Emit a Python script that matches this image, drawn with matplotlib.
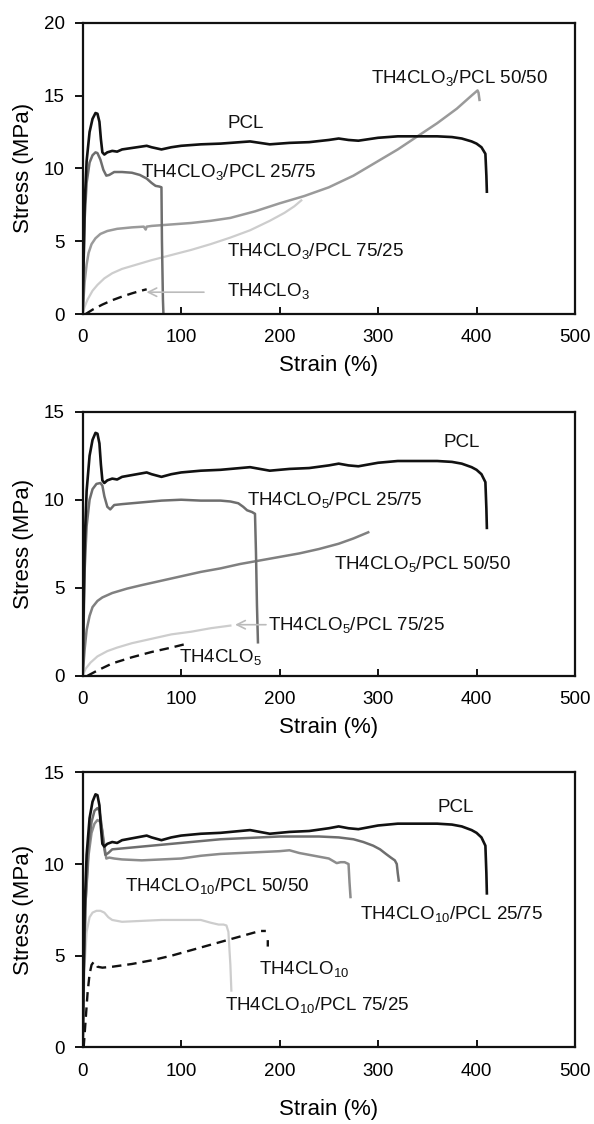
import numpy as np
import matplotlib
matplotlib.use("Agg")
import matplotlib.pyplot as plt

plt.rcParams["font.family"] = ["Liberation Sans", "DejaVu Sans"]
plt.rcParams["mathtext.fontset"] = "custom"
plt.rcParams["mathtext.rm"] = "Liberation Sans"

# ── data (strain %, stress MPa) ──────────────────────────────────────────────
pcl_x = [0, 1, 2, 4, 7, 10, 13, 15, 17, 18.5, 20, 22, 25, 30, 35, 40, 50, 60, 65, 70,
         80, 90, 100, 120, 140, 160, 170, 180, 190, 210, 230, 250, 260, 270, 280, 300,
         320, 340, 360, 375, 385, 395, 400, 405, 409, 410, 410.5]
pcl_y = [0, 4, 7.5, 10.5, 12.5, 13.4, 13.8, 13.75, 13.2, 12.0, 11.1, 10.95, 11.1, 11.2, 11.15,
         11.3, 11.4, 11.5, 11.55, 11.45, 11.3, 11.45, 11.55, 11.65, 11.7, 11.8, 11.85, 11.75,
         11.65, 11.75, 11.8, 11.95, 12.05, 11.95, 11.9, 12.1, 12.2, 12.2, 12.2, 12.15, 12.05,
         11.85, 11.7, 11.45, 11.0, 9.5, 8.4]

# TH4CLO3 blends
c3_2575_x = [0, 1, 2, 4, 7, 10, 13, 15, 18, 21, 24, 27, 32, 40, 50, 58, 65, 70, 74, 78, 80, 80.5, 81.5, 82]
c3_2575_y = [0, 3.5, 6.5, 9, 10.4, 10.9, 11.1, 11.05, 10.6, 9.9, 9.5, 9.55, 9.75, 9.75, 9.7, 9.55,
             9.3, 9.0, 8.8, 8.75, 8.7, 5, 1, 0]
c3_5050_x = [0, 1, 2, 4, 6, 9, 13, 18, 25, 35, 50, 62, 64, 65, 70, 90, 110, 130, 150, 175, 200,
             225, 250, 275, 300, 320, 340, 360, 380, 395, 401, 402, 403]
c3_5050_y = [0, 1.2, 2.2, 3.4, 4.2, 4.8, 5.2, 5.5, 5.7, 5.85, 5.95, 6.0, 5.8, 6.0, 6.05, 6.15, 6.25,
             6.4, 6.6, 7.05, 7.6, 8.1, 8.7, 9.5, 10.5, 11.3, 12.2, 13.1, 14.1, 15.0, 15.35, 15.2, 14.7]
c3_7525_x = [0, 2, 5, 10, 15, 22, 30, 40, 55, 70, 90, 110, 130, 150, 170, 190, 205, 215, 222]
c3_7525_y = [0, 0.5, 1.0, 1.6, 2.0, 2.45, 2.8, 3.1, 3.4, 3.7, 4.05, 4.4, 4.8, 5.25, 5.75, 6.4,
             6.95, 7.4, 7.8]
c3_x = [3, 10, 20, 30, 40, 50, 58, 65]
c3_y = [0, 0.3, 0.65, 0.95, 1.2, 1.42, 1.58, 1.7]

# TH4CLO5 blends
c5_2575_x = [0, 1, 2, 4, 7, 10, 14, 18, 20, 22, 25, 28, 32, 40, 60, 80, 100, 120, 140, 150, 158,
             163, 167, 172, 175, 176, 177, 178]
c5_2575_y = [0, 3, 6, 8.5, 10, 10.6, 10.9, 10.95, 10.8, 10.2, 9.6, 9.45, 9.7, 9.75, 9.85, 9.95,
             10.0, 9.95, 9.95, 9.9, 9.8, 9.6, 9.4, 9.3, 9.2, 7, 4, 1.9]
c5_5050_x = [0, 2, 4, 7, 10, 15, 20, 30, 45, 60, 80, 100, 120, 140, 160, 180, 200, 220, 240,
             260, 275, 290]
c5_5050_y = [0, 1.5, 2.6, 3.4, 3.9, 4.25, 4.45, 4.7, 4.95, 5.15, 5.4, 5.65, 5.9, 6.1, 6.35,
             6.55, 6.75, 6.95, 7.2, 7.5, 7.8, 8.15]
c5_7525_x = [0, 3, 8, 15, 25, 35, 50, 70, 90, 110, 130, 150]
c5_7525_y = [0, 0.4, 0.75, 1.1, 1.4, 1.6, 1.85, 2.1, 2.35, 2.5, 2.7, 2.85]
c5_x = [5, 15, 30, 50, 70, 90, 108]
c5_y = [0, 0.3, 0.7, 1.05, 1.35, 1.6, 1.85]

# TH4CLO10 blends
c10_2575_x = [0, 1, 3, 6, 9, 12, 15, 17, 19, 21, 23, 26, 30, 40, 60, 80, 100, 120, 140, 160, 180,
              200, 220, 240, 260, 275, 285, 295, 302, 308, 313, 317, 319, 320, 321]
c10_2575_y = [0, 4, 8, 11, 12.3, 12.9, 13.05, 12.9, 12.2, 11.2, 10.5, 10.6, 10.8, 10.85, 10.95,
              11.05, 11.15, 11.25, 11.35, 11.4, 11.45, 11.5, 11.5, 11.5, 11.45, 11.35, 11.2, 11.0,
              10.8, 10.55, 10.35, 10.2, 10.0, 9.5, 9.1]
c10_5050_x = [0, 1, 3, 6, 9, 12, 15, 18, 20, 22, 24, 27, 32, 40, 60, 80, 100, 120, 140, 160, 180,
              200, 210, 220, 235, 250, 258, 262, 266, 270, 271, 272]
c10_5050_y = [0, 4, 8, 10.5, 11.7, 12.2, 12.4, 12.3, 11.8, 11.0, 10.3, 10.35, 10.3, 10.25, 10.2,
              10.25, 10.3, 10.45, 10.55, 10.6, 10.65, 10.7, 10.75, 10.6, 10.45, 10.3, 10.05, 10.1,
              10.1, 10.0, 9.0, 8.2]
c10_7525_x = [0, 1, 2, 4, 7, 10, 14, 18, 22, 26, 30, 35, 40, 60, 80, 100, 120, 130, 138, 143,
              146, 148, 150, 151]
c10_7525_y = [0, 2.5, 4.5, 6.3, 7.1, 7.35, 7.45, 7.45, 7.35, 7.1, 6.95, 6.9, 6.85, 6.9, 6.95,
              6.95, 6.95, 6.8, 6.7, 6.7, 6.65, 6.3, 4.5, 3.1]
c10_x = [1, 3, 5, 7, 9, 11, 13, 15, 20, 30, 50, 70, 90, 110, 130, 150, 170, 180, 186, np.nan, 188, 188]
c10_y = [0, 1.5, 3.0, 4.0, 4.5, 4.65, 4.6, 4.4, 4.35, 4.4, 4.55, 4.75, 5.0, 5.3, 5.6, 5.9, 6.2,
         6.35, 6.35, np.nan, 5.85, 5.5]

x_ticks = [0, 100, 200, 300, 400, 500]

BLACK = "#111111"
DARK = "#6e6e6e"
MID = "#9a9a9a"
LIGHT = "#cdcdcd"
DASH = (0, (4, 2.5))
FS = 13.5


def sub(n):
    return r"$\mathregular{_{%s}}$" % n


def style_axes(ax, ymax, ystep, xlabel_y):
    ax.set_xlim(0, 500)
    ax.set_ylim(0, ymax)
    ax.set_xticks(x_ticks)
    ax.set_yticks(np.arange(0, ymax + 0.1, ystep))
    ax.tick_params(axis="x", direction="in", length=5, width=1.3, pad=11, labelsize=FS)
    ax.tick_params(axis="y", direction="out", length=6, width=1.3, pad=7, labelsize=FS)
    for sp in ax.spines.values():
        sp.set_linewidth(1.6)
        sp.set_color(BLACK)
    ax.set_xlabel("Strain (%)", fontsize=16)
    ax.set_ylabel("Stress (MPa)", fontsize=16)
    ax.xaxis.set_label_coords(0.5, xlabel_y)
    ax.yaxis.set_label_coords(-0.099, 0.5)


def label(ax, x, y, s):
    ax.text(x, y, s, fontsize=FS, ha="left", va="center", color="#111111")


def arrow(ax, x0, x1, y):
    ax.annotate("", xy=(x1, y), xytext=(x0, y),
                arrowprops=dict(arrowstyle="->,head_length=0.6,head_width=0.3",
                                color="#bbbbbb", lw=1.2))


fig = plt.figure(figsize=(5.94, 11.24), dpi=100)

# ── panel 1: TH4CLO3 ─────────────────────────────────────────────────────────
ax1 = fig.add_axes([0.1392, 0.7206, 0.8288, 0.2592])
ax1.plot(c3_7525_x, c3_7525_y, color=LIGHT, lw=1.6)
ax1.plot(c3_5050_x, c3_5050_y, color=MID, lw=1.8)
ax1.plot(c3_2575_x, c3_2575_y, color=DARK, lw=1.8)
ax1.plot(pcl_x, pcl_y, color=BLACK, lw=1.9)
ax1.plot(c3_x, c3_y, color=BLACK, lw=1.7, ls=DASH)
style_axes(ax1, 20, 5, -0.141)
label(ax1, 147, 13.1, "PCL")
label(ax1, 59, 9.75, "TH4CLO" + sub(3) + "/PCL 25/75")
label(ax1, 293, 16.2, "TH4CLO" + sub(3) + "/PCL 50/50")
label(ax1, 147, 4.3, "TH4CLO" + sub(3) + "/PCL 75/25")
label(ax1, 147, 1.55, "TH4CLO" + sub(3))
arrow(ax1, 126, 62, 1.5)

# ── panel 2: TH4CLO5 ─────────────────────────────────────────────────────────
ax2 = fig.add_axes([0.1392, 0.3988, 0.8288, 0.2349])
ax2.plot(c5_7525_x, c5_7525_y, color=LIGHT, lw=1.6)
ax2.plot(c5_5050_x, c5_5050_y, color="#808080", lw=1.8)
ax2.plot(c5_2575_x, c5_2575_y, color=DARK, lw=1.8)
ax2.plot(pcl_x, pcl_y, color=BLACK, lw=1.9)
ax2.plot(c5_x, c5_y, color=BLACK, lw=1.7, ls=DASH)
style_axes(ax2, 15, 5, -0.156)
label(ax2, 366, 13.25, "PCL")
label(ax2, 167, 10.0, "TH4CLO" + sub(5) + "/PCL 25/75")
label(ax2, 255, 6.35, "TH4CLO" + sub(5) + "/PCL 50/50")
label(ax2, 188, 2.9, "TH4CLO" + sub(5) + "/PCL 75/25")
label(ax2, 98, 1.05, "TH4CLO" + sub(5))
arrow(ax2, 189, 152, 2.9)

# ── panel 3: TH4CLO10 ────────────────────────────────────────────────────────
ax3 = fig.add_axes([0.1392, 0.0681, 0.8288, 0.2448])
ax3.plot(c10_7525_x, c10_7525_y, color=LIGHT, lw=1.6)
ax3.plot(c10_5050_x, c10_5050_y, color="#8c8c8c", lw=1.8)
ax3.plot(c10_2575_x, c10_2575_y, color=DARK, lw=1.8)
ax3.plot(pcl_x, pcl_y, color=BLACK, lw=1.9)
ax3.plot(c10_x, c10_y, color=BLACK, lw=1.7, ls=DASH)
style_axes(ax3, 15, 5, -0.187)
label(ax3, 360, 13.1, "PCL")
label(ax3, 43, 8.8, "TH4CLO" + sub(10) + "/PCL 50/50")
label(ax3, 282, 7.3, "TH4CLO" + sub(10) + "/PCL 25/75")
label(ax3, 179, 4.3, "TH4CLO" + sub(10))
label(ax3, 145, 2.3, "TH4CLO" + sub(10) + "/PCL 75/25")

fig.savefig("out.png", dpi=100)
